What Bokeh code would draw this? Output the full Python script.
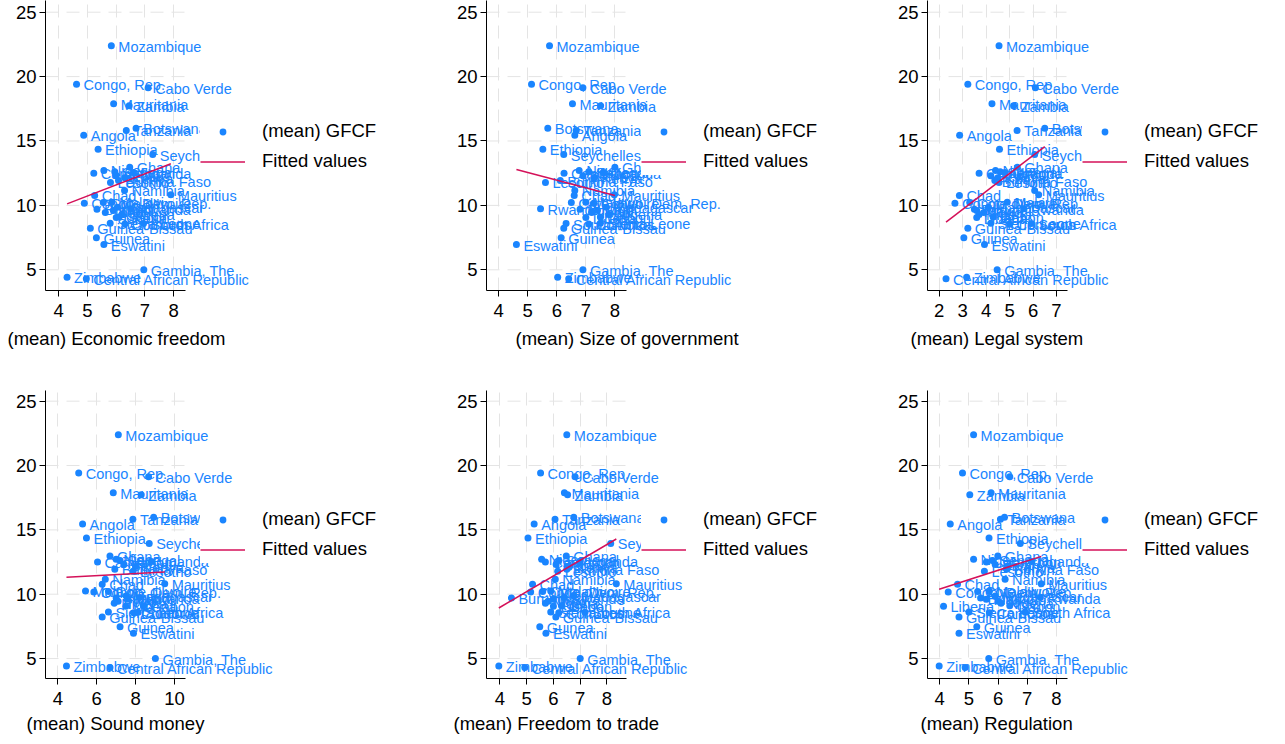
from bokeh.plotting import figure
from bokeh.models import (ColumnDataSource, FixedTicker, Range1d, Title,
                          Legend, LegendItem)
from bokeh.layouts import row, column
from bokeh.embed import file_html
from bokeh.resources import INLINE
from bokeh.core.properties import value

# ---------------- data ----------------
countries = [
    "Mozambique", "Congo, Rep.", "Cabo Verde", "Mauritania", "Zambia",
    "Botswana", "Tanzania", "Angola", "Ethiopia", "Seychelles",
    "Ghana", "Niger", "Cameroon", "Senegal", "Uganda",
    "Benin", "Kenya", "Burkina Faso", "Lesotho", "Namibia",
    "Mauritius", "Chad", "Congo, Dem. Rep.", "Cote d'Ivoire", "Malawi",
    "Madagascar", "Rwanda", "Burundi", "Mali", "Togo",
    "Nigeria", "Gabon", "Liberia", "Sierra Leone", "Comoros",
    "South Africa", "Guinea-Bissau", "Guinea", "Eswatini", "Gambia, The",
    "Zimbabwe", "Central African Republic"]

gfcf = [22.39, 19.41, 19.13, 17.89, 17.73,
        15.99, 15.82, 15.45, 14.36, 13.95,
        12.97, 12.71, 12.50, 12.62, 12.55,
        12.30, 12.15, 11.93, 11.78, 11.16,
        10.82, 10.77, 10.17, 10.22, 10.25,
        9.86, 9.74, 9.70, 9.60, 9.45,
        9.30, 9.10, 9.06, 8.62, 8.55,
        8.59, 8.23, 7.48, 6.96, 5.00,
        4.43, 4.30]

economic_freedom = [5.83, 4.62, 7.11, 5.91, 6.45, 6.69, 6.35, 4.87, 5.37, 7.27,
                    6.47, 5.57, 5.22, 5.95, 6.60, 6.00, 6.30, 6.08, 5.80, 6.29,
                    7.90, 5.25, 4.89, 5.55, 5.85, 6.04, 6.50, 5.33, 5.90, 5.62,
                    6.20, 6.10, 6.00, 5.79, 6.30, 6.95, 5.10, 5.31, 5.57, 6.96,
                    4.29, 4.96]
size_of_government = [5.75, 5.13, 6.90, 6.54, 7.51, 5.69, 6.67, 6.62, 5.52, 6.24,
                      8.00, 6.77, 6.25, 7.10, 7.60, 6.90, 7.30, 6.12, 5.61, 6.62,
                      7.98, 6.60, 7.27, 6.50, 7.00, 7.71, 5.44, 6.80, 7.40, 7.20,
                      7.80, 7.50, 7.00, 7.50, 7.10, 6.32, 6.24, 6.15, 4.61, 6.90,
                      6.03, 6.41]
legal_system = [4.55, 3.22, 6.10, 4.25, 5.17, 6.50, 5.32, 2.87, 4.57, 6.07,
                5.33, 4.40, 3.70, 4.60, 4.80, 4.20, 4.50, 4.37, 4.55, 6.07,
                6.24, 2.86, 2.67, 3.30, 4.90, 4.10, 5.60, 3.50, 3.60, 3.90,
                3.70, 4.30, 3.60, 4.20, 5.00, 5.93, 3.22, 3.05, 3.93, 4.47,
                3.17, 2.29]
sound_money = [7.11, 5.07, 8.67, 6.85, 8.29, 8.93, 7.86, 5.27, 5.47, 8.70,
               6.68, 7.00, 6.04, 7.20, 8.80, 7.40, 8.00, 6.93, 7.87, 6.44,
               9.50, 6.28, 5.85, 6.60, 5.42, 7.51, 8.20, 7.00, 7.60, 7.10,
               6.90, 8.40, 7.50, 6.60, 7.90, 8.13, 6.28, 7.20, 7.89, 9.02,
               4.44, 6.68]
freedom_to_trade = [6.50, 5.52, 6.81, 6.41, 6.53, 6.76, 6.06, 5.28, 5.05, 8.14,
                    6.48, 5.56, 5.70, 6.20, 7.00, 6.10, 6.60, 6.50, 6.16, 6.07,
                    8.35, 5.22, 5.15, 5.60, 5.90, 6.77, 6.40, 4.43, 6.00, 5.80,
                    5.70, 6.30, 6.00, 5.90, 6.20, 7.18, 6.09, 5.49, 5.72, 7.00,
                    3.96, 4.93]
regulation = [5.16, 4.78, 6.40, 5.76, 5.03, 6.22, 6.08, 4.36, 5.69, 6.76,
              5.99, 5.16, 5.60, 5.80, 7.14, 5.90, 6.30, 6.29, 5.53, 6.24,
              7.48, 4.61, 4.29, 5.30, 5.70, 5.90, 7.45, 5.40, 5.60, 6.00,
              6.10, 6.40, 4.13, 5.00, 5.70, 6.93, 4.66, 5.27, 4.66, 5.68,
              3.98, 4.87]

x_titles = ["(mean) Economic freedom", "(mean) Size of government",
            "(mean) Legal system", "(mean) Sound money",
            "(mean) Freedom to trade", "(mean) Regulation"]
x_series = [economic_freedom, size_of_government, legal_system,
            sound_money, freedom_to_trade, regulation]
x_ticks = [[4, 5, 6, 7, 8], [4, 5, 6, 7, 8], [2, 3, 4, 5, 6, 7],
           [4, 6, 8, 10], [4, 5, 6, 7, 8], [4, 5, 6, 7, 8]]
x_bounds = [(3.54, 8.41), (3.58, 8.40), (1.50, 7.47),
            (3.36, 10.57), (3.50, 8.73), (3.58, 8.38)]
# fitted values at min(x) and max(x)
fit_start = [10.12, 12.79, 8.70, 11.31, 8.93, 10.38]
fit_end = [13.23, 10.77, 14.57, 11.72, 14.29, 12.94]
y_ticks = [5, 10, 15, 20, 25]

# ---------------- style / layout ----------------
BLUE = "#1a85ff"
RED = "#d41159"
GRID = "#e4e4e4"
FONT = "Liberation Sans"
REGION_PX = 140          # width of the axis region in pixels
COL_W = [441, 441, 395]
LEFT = 45
TITLE_OFFSET = [-38, 29, -17, -19, -33, -7]   # px from frame left
ROWS = [dict(h=390, fh=290, yr=(3.393, 25.908), title_standoff=16),
        dict(h=354, fh=288, yr=(3.45, 25.83), title_standoff=10)]


def make_panel(i):
    r = ROWS[i // 3]
    W = COL_W[i % 3]
    lo, hi = x_bounds[i]
    frame_w = W - LEFT
    x_end = lo + (hi - lo) * frame_w / REGION_PX
    xs = x_series[i]
    p = figure(width=W, height=r["h"], output_backend="svg", toolbar_location=None,
               x_range=Range1d(lo, x_end), y_range=Range1d(*r["yr"]),
               min_border_left=LEFT, min_border_right=0, min_border_top=0,
               min_border_bottom=r["h"] - r["fh"])
    p.outline_line_color = None
    p.background_fill_color = "white"
    p.border_fill_color = "white"

    # axes
    xa = p.below[0]
    xa.ticker = FixedTicker(ticks=x_ticks[i])
    xa.bounds = (lo, hi)
    xa.axis_line_color = "black"
    xa.major_tick_line_color = "black"
    xa.major_tick_out = 6
    xa.major_tick_in = 0
    xa.minor_tick_line_color = None
    xa.major_label_standoff = 7
    xa.major_label_text_font = FONT
    xa.major_label_text_font_size = "18.5px"
    xa.major_label_text_color = "black"

    ya = p.left[0]
    ya.ticker = FixedTicker(ticks=y_ticks)
    ya.axis_line_color = "black"
    ya.major_tick_line_color = "black"
    ya.major_tick_out = 6
    ya.major_tick_in = 0
    ya.minor_tick_line_color = None
    ya.major_label_standoff = 3
    ya.major_label_text_font = FONT
    ya.major_label_text_font_size = "18.5px"
    ya.major_label_text_color = "black"

    p.add_layout(Title(text=x_titles[i], align="left", offset=TITLE_OFFSET[i],
                       vertical_align="top", standoff=r["title_standoff"],
                       text_font=FONT, text_font_size="18.5px",
                       text_font_style="normal", text_color="black"), "below")

    # grid
    p.xgrid.ticker = FixedTicker(ticks=x_ticks[i])
    p.xgrid.grid_line_color = GRID
    p.xgrid.grid_line_dash = "13 8"
    p.ygrid.visible = False
    p.segment(x0=[lo] * len(y_ticks), x1=[hi] * len(y_ticks), y0=y_ticks, y1=y_ticks,
              line_color=GRID, line_dash="13 8", line_width=1)

    src = ColumnDataSource(dict(x=xs, y=gfcf, name=countries))
    sc = p.scatter("x", "y", source=src, size=7, fill_color=BLUE, line_color=None)
    p.text("x", "y", text="name", source=src, x_offset=7, y_offset=1,
           text_baseline="middle", text_align="left",
           text_font=value(FONT), text_font_size="14.5px", text_color=BLUE)
    ln = p.line(x=[min(xs), max(xs)], y=[fit_start[i], fit_end[i]],
                line_color=RED, line_width=1.5)

    legend = Legend(items=[LegendItem(label=value("(mean) GFCF"), renderers=[sc]),
                           LegendItem(label=value("Fitted values"), renderers=[ln])],
                    location=(155, 115), orientation="vertical",
                    background_fill_color="white", background_fill_alpha=1.0,
                    border_line_color=None, label_text_font=FONT,
                    label_text_font_size="18.5px", label_text_color="black",
                    glyph_width=45, glyph_height=17, label_height=28,
                    spacing=2, padding=3, margin=0, label_standoff=17)
    p.add_layout(legend)
    return p


panels = [make_panel(i) for i in range(6)]
layout = column(row(*panels[:3]), row(*panels[3:]))
open("out.html", "w").write(file_html(layout, INLINE))
